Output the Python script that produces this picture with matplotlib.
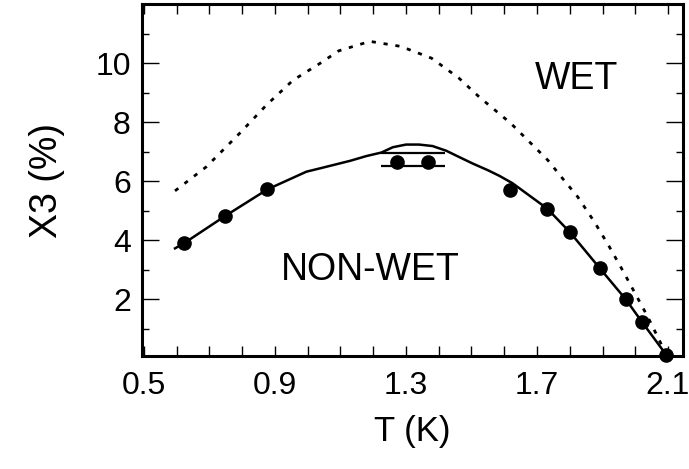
import matplotlib
matplotlib.use('Agg')
import matplotlib.pyplot as plt
from matplotlib.ticker import MultipleLocator

plt.rcParams['font.family'] = ['Liberation Sans', 'DejaVu Sans']

# curva continua (frontera wet / non-wet)
t_solid = [0.595, 0.622, 0.747, 0.877, 0.996, 1.04, 1.076, 1.13, 1.179, 1.225,
           1.26, 1.30, 1.34, 1.381, 1.423, 1.46, 1.503, 1.55, 1.585, 1.625,
           1.731, 1.801, 1.892, 1.971, 2.02, 2.095]
x_solid = [3.72, 3.89, 4.81, 5.72, 6.32, 6.44, 6.54, 6.69, 6.85, 6.97,
           7.15, 7.24, 7.24, 7.19, 7.03, 6.83, 6.6, 6.37, 6.18, 5.93,
           5.07, 4.26, 3.04, 1.99, 1.23, 0.10]

# curva punteada
t_dash = [0.595, 0.691, 0.793, 0.874, 0.955, 1.037, 1.095, 1.19, 1.284, 1.378,
          1.461, 1.524, 1.62, 1.677, 1.733, 1.778, 1.824, 1.875, 1.921, 1.961,
          2.002, 2.038, 2.073, 2.095]
x_dash = [5.67, 6.49, 7.63, 8.58, 9.42, 9.99, 10.42, 10.74, 10.57, 10.17,
          9.5, 8.85, 7.96, 7.33, 6.71, 6.09, 5.47, 4.62, 3.77, 2.98,
          2.14, 1.40, 0.61, 0.10]

# puntos experimentales
t_pts = [0.622, 0.747, 0.877, 1.274, 1.366, 1.618, 1.731, 1.801, 1.892, 1.971, 2.02, 2.095]
x_pts = [3.89, 4.81, 5.72, 6.64, 6.64, 5.69, 5.07, 4.26, 3.04, 1.99, 1.23, 0.10]

# barras horizontales alrededor de los dos puntos centrales
bar_y = [6.95, 6.5]
bar_t0 = 1.225
bar_t1 = 1.42

fig = plt.figure(figsize=(6.89, 4.69), dpi=100)
ax = fig.add_axes([0.206, 0.241, 0.785, 0.750])

ax.plot(t_dash, x_dash, color='black', lw=2.0, linestyle=(0, (1.5, 2.8)))
ax.plot(t_solid, x_solid, color='black', lw=1.8)
ax.hlines(bar_y, bar_t0, bar_t1, color='black', lw=1.6)
ax.plot(t_pts, x_pts, 'o', color='black', ms=9.5, clip_on=False, zorder=5)

ax.text(1.82, 9.46, 'WET', fontsize=27, ha='center', va='center')
ax.text(1.19, 2.98, 'NON-WET', fontsize=27, ha='center', va='center')

ax.set_xlim(0.494, 2.145)
ax.set_ylim(0.07, 12.0)
ax.xaxis.set_minor_locator(MultipleLocator(0.1))
ax.set_xticks([0.5, 0.9, 1.3, 1.7, 2.1])
ax.set_xticklabels(['0.5', '0.9', '1.3', '1.7', '2.1'])
ax.set_yticks([2, 4, 6, 8, 10])
ax.yaxis.set_minor_locator(MultipleLocator(1))

ax.tick_params(which='both', direction='in', top=True, right=True, labelsize=23, width=1.0)
ax.tick_params(axis='x', which='major', length=7, pad=11)
ax.tick_params(axis='x', which='minor', length=7)
ax.tick_params(axis='y', which='major', length=12, pad=8)
ax.tick_params(axis='y', which='minor', length=5)

for s in ax.spines.values():
    s.set_linewidth(2.2)

ax.set_xlabel('T (K)', fontsize=25, labelpad=10)
ax.set_ylabel('X3 (%)', fontsize=27, labelpad=22)

fig.savefig('out.png', dpi=100)
